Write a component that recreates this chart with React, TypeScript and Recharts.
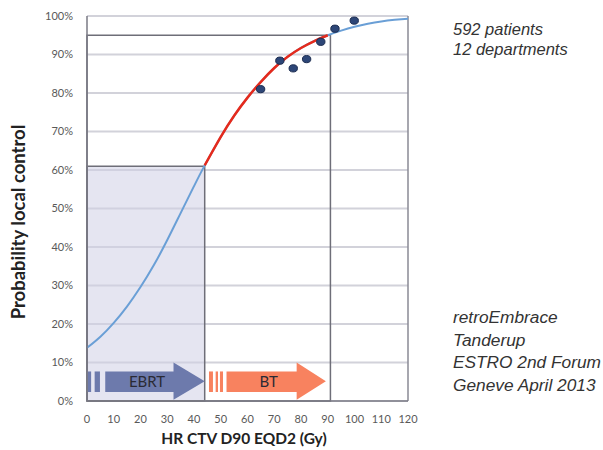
import React from "react";
import {
  ComposedChart,
  Line,
  Scatter,
  XAxis,
  YAxis,
  CartesianGrid,
  ReferenceArea,
  ReferenceLine,
} from "recharts";

// Dose-response curve (HR CTV D90 EQD2 in Gy vs probability of local control in %)
const doseGy = [0, 5, 10, 15, 20, 25, 30, 35, 40, 44, 50, 55, 60, 65, 70, 75, 80, 85, 90, 95, 100, 105, 110, 115, 120];
const controlPct = [13.8, 16.7, 20.3, 24.6, 29.6, 35.3, 41.8, 48.8, 55.8, 61.2, 68.6, 74.1, 78.8, 82.9, 86.5, 89.4, 91.7, 93.5, 95, 96.2, 97.2, 98, 98.6, 99, 99.3];

// Department observations
const patientDose = [64.9, 72.1, 77.1, 82.1, 87.4, 92.7, 99.9];
const patientControl = [81, 88.4, 86.4, 88.8, 93.3, 96.7, 98.8];

// Boxes / arrows
const ebrtDose = 44;
const ebrtControl = 61;
const btDose = 91;
const btControl = 95;
const arrowBand = [0.3, 10];
const ebrtArrow = [0, 44];
const btArrow = [45.6, 89.3];

const xTicks = [0, 10, 20, 30, 40, 50, 60, 70, 80, 90, 100, 110, 120];
const yTicks = [0, 10, 20, 30, 40, 50, 60, 70, 80, 90, 100];

const infoTop = ["592 patients", "12 departments"];
const infoBottom = ["retroEmbrace", "Tanderup", "ESTRO 2nd Forum", "Geneve April 2013"];

const curveData = doseGy.map((x, i) => ({ x, y: controlPct[i] }));
const btCurveData = curveData.filter((d) => d.x >= ebrtDose && d.x <= 90);
const pointData = patientDose.map((x, i) => ({ x, y: patientControl[i] }));

const FONT = "Lato, 'Open Sans', sans-serif";

function Arrow(props: any) {
  const { x, y, width: w, height: h, color, label, stripes, bodyStart, headStart, textPos } = props;
  const top = y + h * 0.24;
  const bot = y + h * 0.79;
  const bx = x + w * bodyStart;
  const hx = x + w * headStart;
  const tip = x + w;
  return (
    <g>
      {stripes.map((s: number[], i: number) => (
        <rect key={i} x={x + w * s[0]} y={top} width={w * (s[1] - s[0])} height={bot - top} fill={color} />
      ))}
      <polygon
        points={`${bx},${top} ${hx},${top} ${hx},${y} ${tip},${y + h / 2} ${hx},${y + h} ${hx},${bot} ${bx},${bot}`}
        fill={color}
      />
      <text
        x={x + w * textPos}
        y={(top + bot) / 2 + 5}
        textAnchor="middle"
        fontFamily={FONT}
        fontSize={15}
        fill="#2a2a35"
      >
        {label}
      </text>
    </g>
  );
}

export default function App() {
  return (
    <div style={{ position: "absolute", left: 0, top: 0, width: 603, height: 450, background: "#fff" }}>
      <ComposedChart
        width={603}
        height={450}
        margin={{ top: 16, right: 195, left: 27, bottom: 4 }}
      >
        <CartesianGrid horizontal vertical={false} stroke="#d2d2da" strokeWidth={1.8} />
        <XAxis
          type="number"
          dataKey="x"
          domain={[0, 120]}
          ticks={xTicks}
          height={45}
          tickLine={false}
          tickMargin={8}
          axisLine={{ stroke: "#7a7a84", strokeWidth: 1.5 }}
          tick={{ fontFamily: FONT, fontSize: 11, fill: "#595959" }}
          allowDataOverflow
        />
        <YAxis
          type="number"
          dataKey="y"
          domain={[0, 100]}
          ticks={yTicks}
          width={60}
          tickLine={false}
          tickMargin={8}
          tickFormatter={(v: number) => `${v}%`}
          axisLine={{ stroke: "#7a7a84", strokeWidth: 1.5 }}
          tick={{ fontFamily: FONT, fontSize: 11, fill: "#595959" }}
          allowDataOverflow
        />
        <ReferenceLine x={120} stroke="#8a8a94" strokeWidth={1.5} />
        <ReferenceArea
          x1={0}
          x2={ebrtDose}
          y1={0}
          y2={ebrtControl}
          fill="#d0d0e6"
          fillOpacity={0.55}
          stroke="#6e6e78"
          strokeWidth={1.5}
        />
        <ReferenceArea
          x1={0}
          x2={btDose}
          y1={0}
          y2={btControl}
          fill="none"
          fillOpacity={0}
          stroke="#6e6e78"
          strokeWidth={1.5}
        />
        <ReferenceArea
          x1={ebrtArrow[0]}
          x2={ebrtArrow[1]}
          y1={arrowBand[0]}
          y2={arrowBand[1]}
          shape={(p: any) => (
            <Arrow
              {...p}
              color="#6d7aac"
              label="EBRT"
              stripes={[[0.005, 0.035], [0.065, 0.11]]}
              bodyStart={0.155}
              headStart={0.735}
              textPos={0.51}
            />
          )}
        />
        <ReferenceArea
          x1={btArrow[0]}
          x2={btArrow[1]}
          y1={arrowBand[0]}
          y2={arrowBand[1]}
          shape={(p: any) => (
            <Arrow
              {...p}
              color="#f8825f"
              label="BT"
              stripes={[[0, 0.034], [0.057, 0.077], [0.094, 0.12]]}
              bodyStart={0.15}
              headStart={0.75}
              textPos={0.51}
            />
          )}
        />
        <Line
          data={curveData}
          dataKey="y"
          type="natural"
          stroke="#6a9fd6"
          strokeWidth={2}
          dot={false}
          isAnimationActive={false}
        />
        <Line
          data={btCurveData}
          dataKey="y"
          type="natural"
          stroke="#e52a1c"
          strokeWidth={2.5}
          dot={false}
          isAnimationActive={false}
        />
        <Scatter
          data={pointData}
          dataKey="y"
          fill="#2d4677"
          stroke="#1c2c50"
          strokeWidth={1}
          shape={(p: any) => <ellipse cx={p.cx} cy={p.cy} rx={4.2} ry={3.6} fill="#2d4677" stroke="#1c2c50" />}
          isAnimationActive={false}
        />
      </ComposedChart>
      <svg
        width={603}
        height={450}
        style={{ position: "absolute", left: 0, top: 0, pointerEvents: "none" }}
      >
        <text
          transform="translate(25,222) rotate(-90)"
          textAnchor="middle"
          fontFamily={FONT}
          fontWeight="bold"
          fontSize={18.5}
          fill="#222"
        >
          Probability local control
        </text>
        <text x={244} y={444} textAnchor="middle" fontFamily={FONT} fontWeight="bold" fontSize={15.5} fill="#222">
          HR CTV D90 EQD2 (Gy)
        </text>
        {infoTop.map((t, i) => (
          <text
            key={t}
            x={453}
            y={35 + i * 19.5}
            fontFamily="'Liberation Sans', Arial, sans-serif"
            fontStyle="italic"
            fontSize={16.5}
            fill="#333"
          >
            {t}
          </text>
        ))}
        {infoBottom.map((t, i) => (
          <text
            key={t}
            x={453}
            y={323 + i * 22.7}
            fontFamily="'Liberation Sans', Arial, sans-serif"
            fontStyle="italic"
            fontSize={17.3}
            fill="#333"
          >
            {t}
          </text>
        ))}
      </svg>
    </div>
  );
}
